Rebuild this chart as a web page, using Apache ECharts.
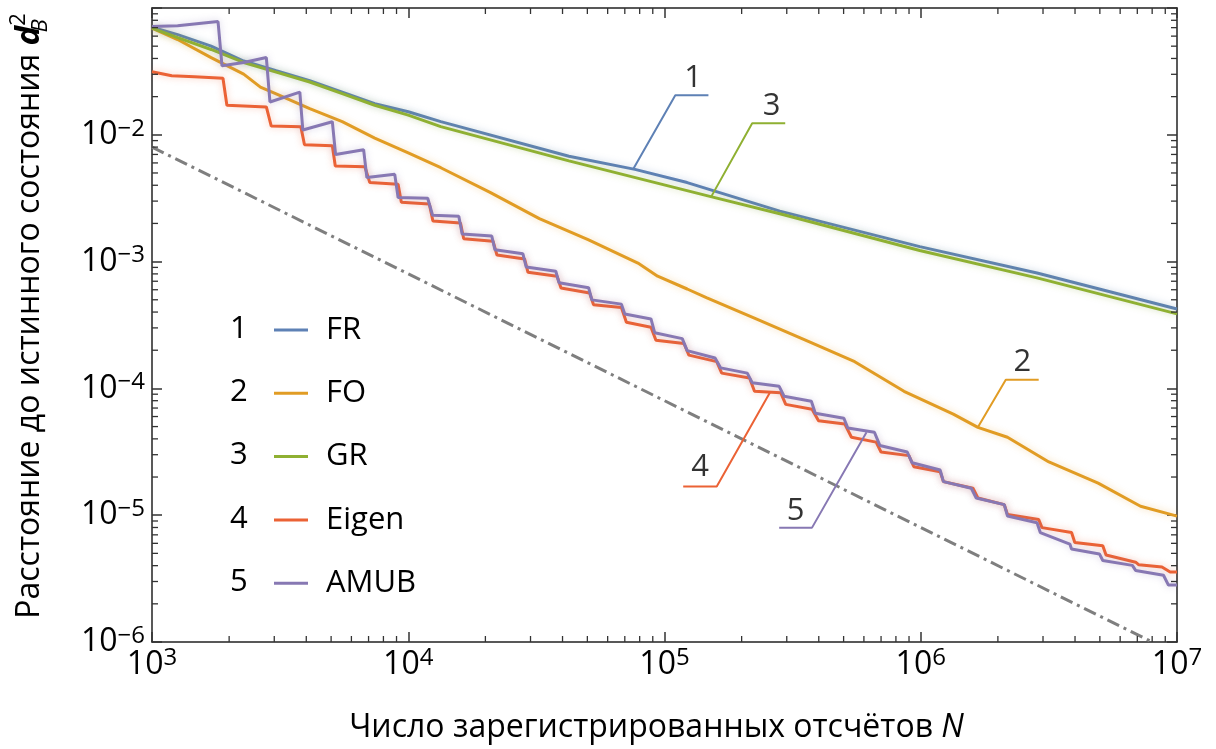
<!DOCTYPE html>
<html><head><meta charset="utf-8">
<script src="https://cdn.jsdelivr.net/npm/echarts@6/dist/echarts.min.js"></script>
<style>html,body{margin:0;padding:0;background:#fff}#c{width:1216px;height:749px}</style>
</head><body><div id="c"></div>
<script>
const FONT = '"Open Sans", "Noto Sans", sans-serif';

// ---------- data (N = number of counts, d = distance d_B^2) ----------
const seriesNames = ['FR', 'FO', 'GR', 'Eigen', 'AMUB'];
const seriesNums  = ['1', '2', '3', '4', '5'];
const seriesColors = ['#5E81B5', '#E19C24', '#8FB032', '#EB6235', '#8778B3'];

const frN = [1000,1259,1701,2279,3052,4125,5525,7401,10000,13397,42360,76680,122600,281800,990800,2843000,10000000];
const frD = [0.0705,0.0617,0.0500,0.0382,0.0320,0.0267,0.0217,0.0176,0.0152,0.0127,0.00678,0.00534,0.00420,0.00250,0.001313,0.000814,0.000423];

const grN = [1000,1259,1701,2279,3052,4125,5525,7401,10000,13397,42360,151600,281800,990800,2843000,10000000];
const grD = [0.0695,0.0584,0.0471,0.0372,0.0312,0.0261,0.0211,0.0171,0.01428,0.0116,0.00623,0.003254,0.002383,0.001222,0.000744,0.000387];

const foN = [1000,1259,1701,2279,2649,3052,4125,5525,7401,10000,13397,20860,32480,50560,78750,94000,122600,146400,227900,354800,552500,860300,1339700,1671000,2180000,3162000,4923000,7206000,10000000];
const foD = [0.0695,0.0564,0.0406,0.0301,0.02375,0.02106,0.01609,0.01269,0.00941,0.00719,0.00550,0.003515,0.002180,0.001481,0.000973,0.000767,0.000608,0.000517,0.000353,0.000240,0.0001625,0.0000949,0.0000626,0.0000493,0.0000412,0.0000263,0.0000179,0.00001177,0.00000984];

const eiN = [1000,1194,1464,1892,1960,2794,2920,3809,3936,5055,5191,6773,7079,9128,9400,12080,12480,15990,16460,21420,22190,28440,29330,38090,39460,51020,52860,67890,71000,88570,92590,119100,124500,159900,167200,214700,224500,284300,297200,376500,399100,505500,536500,669600,699800,899100,939800,1191000,1226000,1599000,1671000,2118000,2181000,2886000,2972000,3877000,3992000,5133000,5285000,6895000,7099000,8734000,9400000,10000000];
const eiD = [0.0314,0.02922,0.02871,0.0279,0.01708,0.0166,0.01173,0.0116,0.008345,0.0082,0.00567,0.0056,0.0042,0.004077,0.002938,0.00285,0.002091,0.002017,0.001515,0.001449,0.001127,0.00105,0.000824,0.000767,0.000619,0.000566,0.000456,0.000435,0.000332,0.000304,0.00024,0.000226,0.000183,0.0001625,0.000132,0.0001207,0.0000949,0.0000923,0.0000748,0.0000684,0.0000555,0.0000523,0.0000412,0.0000377,0.0000315,0.0000295,0.0000241,0.000022,0.0000184,0.0000163,0.00001366,0.00001211,0.00001012,0.00000926,0.00000798,0.0000073,0.0000061,0.00000575,0.00000486,0.00000426,0.00000406,0.0000039,0.00000357,0.00000357];

const amN = [1000,1259,1810,1876,2279,2794,2886,3775,3877,5055,5205,6696,6895,8857,9128,11910,12450,15750,16230,21180,21800,28020,28870,37650,38770,50560,52060,67890,69980,88570,91530,117300,122600,157500,165700,210400,219900,280200,292800,374200,387700,501200,519300,659500,692300,885700,925700,1191000,1226000,1575000,1646000,2118000,2181000,2843000,2928000,3818000,3877000,4981000,5133000,6696000,6895000,8857000,9259000,10000000];
const amD = [0.0716,0.0724,0.0782,0.035,0.03715,0.04064,0.01815,0.02171,0.01092,0.01269,0.00698,0.00763,0.004597,0.004877,0.0032,0.00316,0.002316,0.002275,0.001648,0.00159,0.001238,0.001152,0.000906,0.000839,0.00068,0.000622,0.000499,0.000462,0.000386,0.000353,0.000275,0.000247,0.0001986,0.0001736,0.0001451,0.000132,0.000111,0.0001038,0.0000868,0.0000793,0.0000637,0.0000582,0.0000487,0.0000451,0.0000355,0.0000315,0.0000259,0.0000227,0.0000184,0.0000163,0.00001366,0.00001211,0.00000984,0.00000873,0.0000073,0.00000592,0.00000541,0.00000495,0.00000439,0.00000402,0.00000367,0.00000336,0.00000281,0.00000281];

// reference slope line (dash-dot)
const refN = [1000, 8000000];
const refD = [0.008, 0.000001];

// callout leaders: point on curve -> elbow -> end of shelf
const lead1N = [75330, 110200, 148400];   const lead1D = [0.00533, 0.0205, 0.0205];
const lead2N = [1671000, 2147000, 2886000]; const lead2D = [0.0000493, 0.0001171, 0.0001171];
const lead3N = [152200, 219900, 295900];  const lead3D = [0.003254, 0.01231, 0.01231];
const lead4N = [257900, 159900, 118300];  const lead4D = [0.0000927, 0.00001684, 0.00001684];
const lead5N = [614300, 376500, 280200];  const lead5D = [0.0000451, 0.00000798, 0.00000798];
// callout label anchors
const calloutN = [129300, 2490000, 261900, 137600, 324800];
const calloutD = [0.02855, 0.0001645, 0.01708, 0.0000242, 0.0000110];

// axis tick structure
const xMajor = [1e3, 1e4, 1e5, 1e6, 1e7];
const yMajor = [1e-6, 1e-5, 1e-4, 1e-3, 1e-2, 1e-1];
const minorMult = [2, 3, 4, 5, 6, 7, 8, 9];

// ---------- build ----------
const zip = (a, b) => a.map((v, i) => [v, b[i]]);
function hexA(h, a) { const n = parseInt(h.slice(1), 16); return `rgba(${n>>16},${(n>>8)&255},${n&255},${a})`; }
function pow10Label(v) {
  const e = Math.round(Math.log10(v));
  return '{b|10}{s|' + (e < 0 ? '\u2212' + (-e) : e) + '}';
}
function yPow10Label(v) { return v > 0.05 ? '' : pow10Label(v); }
const xMinor = [], yMinor = [];
for (let i = 0; i < xMajor.length - 1; i++) minorMult.forEach(m => xMinor.push(xMajor[i] * m));
for (let i = 0; i < yMajor.length - 1; i++) minorMult.forEach(m => yMinor.push(yMajor[i] * m));

const AX = '#222', TK = '#333';
const curves = [zip(frN, frD), zip(foN, foD), zip(grN, grD), zip(eiN, eiD), zip(amN, amD)];
const leaders = [zip(lead1N, lead1D), zip(lead2N, lead2D), zip(lead3N, lead3D), zip(lead4N, lead4D), zip(lead5N, lead5D)];

const series = [];
curves.forEach((data, i) => {
  series.push({
    name: seriesNames[i], type: 'line', data, symbol: 'none', z: 2 + i * 0.1,
    clip: true,
    lineStyle: { color: seriesColors[i], width: 3, shadowColor: hexA(seriesColors[i], 0.35), shadowBlur: 7 },
    itemStyle: { color: seriesColors[i] }
  });
});
series.push({
  name: 'ref', type: 'line', data: zip(refN, refD), symbol: 'none', z: 2.6, clip: true,
  lineStyle: { color: '#7f7f7f', width: 3, type: [13, 5, 3, 5] }
});
leaders.forEach((data, i) => {
  series.push({
    name: 'lead' + i, type: 'line', data, symbol: 'none', z: 3,
    lineStyle: { color: seriesColors[i], width: 2 }
  });
});
series.push({
  name: 'callouts', type: 'scatter', symbolSize: 0, z: 4,
  data: calloutN.map((n, i) => ({ value: [n, calloutD[i]], label: { formatter: seriesNums[i] } })),
  label: { show: true, position: 'inside', offset: [0, 1], fontSize: 31, fontFamily: FONT, color: '#000' }
});
// minor ticks (inside, on all four frame sides)
series.push({
  name: 'xminor', type: 'custom', z: 6, silent: true,
  data: xMinor.map(v => [v, 1e-3]),
  renderItem(params, api) {
    const cs = params.coordSys; const p = api.coord([api.value(0), 1e-3]);
    const st = { stroke: TK, lineWidth: 1.3 };
    return { type: 'group', children: [
      { type: 'line', shape: { x1: p[0], y1: cs.y + cs.height, x2: p[0], y2: cs.y + cs.height - 6 }, style: st },
      { type: 'line', shape: { x1: p[0], y1: cs.y, x2: p[0], y2: cs.y + 6 }, style: st }
    ]};
  }
});
series.push({
  name: 'yminor', type: 'custom', z: 6, silent: true,
  data: yMinor.map(v => [1e4, v]),
  renderItem(params, api) {
    const cs = params.coordSys; const p = api.coord([1e4, api.value(1)]);
    const st = { stroke: TK, lineWidth: 1.3 };
    return { type: 'group', children: [
      { type: 'line', shape: { x1: cs.x, y1: p[1], x2: cs.x + 6, y2: p[1] }, style: st },
      { type: 'line', shape: { x1: cs.x + cs.width, y1: p[1], x2: cs.x + cs.width - 6, y2: p[1] }, style: st }
    ]};
  }
});

const axisCommon = {
  type: 'log', logBase: 10,
  axisLine: { show: true, lineStyle: { color: AX, width: 1.5 } },
  axisTick: { show: true, inside: true, length: 10, lineStyle: { color: TK, width: 1.5 } },
  splitLine: { show: false }, minorTick: { show: false }
};
const xLabel = {
  margin: 4, formatter: pow10Label, color: '#000',
  rich: {
    b: { fontSize: 32, fontFamily: FONT, color: '#000', lineHeight: 38 },
    s: { fontSize: 24, fontFamily: FONT, color: '#000', lineHeight: 24, verticalAlign: 'top' }
  }
};
const yLabel = {
  margin: 7, formatter: yPow10Label, color: '#000',
  rich: {
    b: { fontSize: 32, fontFamily: FONT, color: '#000', lineHeight: 36 },
    s: { fontSize: 24, fontFamily: FONT, color: '#000', lineHeight: 22, verticalAlign: 'top' }
  }
};

const option = {
  animation: false,
  backgroundColor: '#fff',
  grid: { left: 137, right: 39, top: 8, bottom: 98, containLabel: false },
  xAxis: [
    Object.assign({}, axisCommon, {
      position: 'bottom', min: 1e3, max: 1e7, splitNumber: 4, axisLabel: xLabel,
      name: '{t|Число зарегистрированных отсчётов }{i|N}', nameLocation: 'middle', nameGap: 70,
      nameTextStyle: { padding: [0, 16, 0, 0], rich: {
        t: { fontSize: 32, fontFamily: FONT, color: '#000' },
        i: { fontSize: 32, fontFamily: FONT, color: '#000', fontStyle: 'italic' }
      } }
    }),
    Object.assign({}, axisCommon, { position: 'top', min: 1e3, max: 1e7, splitNumber: 4, axisLabel: { show: false } })
  ],
  yAxis: [
    Object.assign({}, axisCommon, {
      position: 'left', min: 1e-6, max: 1e-1, splitNumber: 5, axisLabel: yLabel,
      name: '{t|Расстояние до истинного состояния }{d|d}{sb|B}{sp|2}', nameLocation: 'middle', nameGap: 100,
      nameTextStyle: { padding: [0, 0, 0, 18], rich: {
        t: { fontSize: 32, fontFamily: FONT, color: '#000', lineHeight: 44 },
        d: { fontSize: 33, fontFamily: FONT, color: '#000', fontStyle: 'italic', fontWeight: 'bold', lineHeight: 44 },
        sb: { fontSize: 22, fontFamily: FONT, color: '#000', fontStyle: 'italic', lineHeight: 20, verticalAlign: 'bottom', width: 0, align: 'left' },
        sp: { fontSize: 22, fontFamily: FONT, color: '#000', lineHeight: 20, verticalAlign: 'top' }
      } }
    }),
    Object.assign({}, axisCommon, { position: 'right', min: 1e-6, max: 1e-1, splitNumber: 5, axisLabel: { show: false } })
  ],
  legend: {
    data: seriesNames, orient: 'vertical', left: 269, top: 308,
    icon: 'rect', itemWidth: 34, itemHeight: 3, itemGap: 29.3, selectedMode: false,
    textStyle: { fontSize: 31, fontFamily: FONT, color: '#000', lineHeight: 34, padding: [0, 0, 0, 13] }
  },
  graphic: seriesNums.map((t, i) => ({
    type: 'text', left: 230, top: 312 + i * 63.3, z: 10,
    style: { text: t, font: '31px ' + FONT, fill: '#000', lineHeight: 34 }
  })),
  series
};
const chart = echarts.init(document.getElementById('c'));
chart.setOption(option);
</script></body></html>
